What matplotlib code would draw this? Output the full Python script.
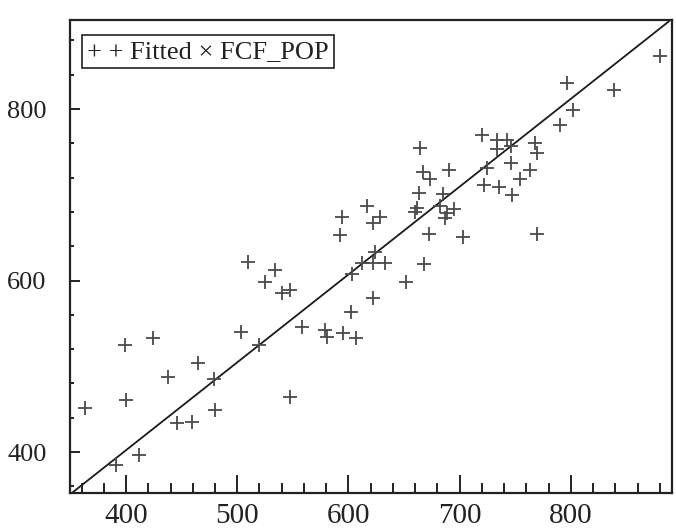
import matplotlib
matplotlib.use("Agg")
import matplotlib.pyplot as plt
from matplotlib.ticker import MultipleLocator

# Scatter data: FCF_POP (x) vs fitted (y)
pop_x = [363, 391, 412, 399, 400, 424, 438, 465, 479, 480, 446, 459, 503, 520,
         547, 525, 540, 547, 510, 534, 558, 579, 581, 595, 607, 602, 622, 652,
         603, 612, 622, 633, 624, 668, 592, 594, 622, 628, 617, 660, 662, 672,
         682, 689, 695, 687, 703, 663, 685, 667, 673, 690, 664, 725, 722, 735,
         747, 754, 763, 746, 770, 720, 734, 734, 743, 746, 768, 770, 790, 802,
         797, 839, 880]
fit_y = [451, 385, 397, 525, 461, 533, 487, 504, 485, 449, 434, 435, 540, 525,
         464, 598, 585, 589, 622, 612, 546, 542, 534, 539, 533, 563, 580, 598,
         608, 620, 620, 620, 633, 619, 653, 674, 667, 674, 687, 680, 685, 654,
         687, 679, 683, 673, 651, 702, 701, 727, 718, 729, 755, 731, 711, 709,
         700, 718, 729, 737, 654, 770, 764, 753, 764, 757, 760, 749, 781, 799,
         830, 822, 862]

# Fitted line end points
line_x = [352, 888]
line_y = [353, 902]

x_major = [400, 500, 600, 700, 800]
y_major = [400, 600, 800]
legend_text = "+ + Fitted \u00d7 FCF_POP"

fig = plt.figure(figsize=(6.76, 5.28), dpi=100)
ax = fig.add_axes([0.1036, 0.0663, 0.8905, 0.8958])

ax.plot(line_x, line_y, color="#1a1a1a", lw=1.3, zorder=2)
ax.scatter(pop_x, fit_y, marker="+", s=100, linewidths=1.3, color="#4a4a4a", zorder=3)

ax.set_xlim(349.6, 891)
ax.set_ylim(352.2, 903.8)

ax.set_xticks(x_major)
ax.set_yticks(y_major)
ax.xaxis.set_minor_locator(MultipleLocator(20))
ax.yaxis.set_minor_locator(MultipleLocator(40))

serif = ["Liberation Serif", "DejaVu Serif"]
ax.set_xticklabels([str(v) for v in x_major], family=serif, fontsize=21, color="#222222")
ax.set_yticklabels([str(v) for v in y_major], family=serif, fontsize=19, color="#222222")

ax.tick_params(axis="x", which="major", direction="in", length=13, width=1.4, pad=7, color="#222222")
ax.tick_params(axis="x", which="minor", direction="in", length=7, width=1.4, color="#222222")
ax.tick_params(axis="y", which="major", direction="in", length=7, width=1.4, pad=17, color="#222222")
ax.tick_params(axis="y", which="minor", direction="in", length=3, width=1.4, color="#222222")

for side, sp in ax.spines.items():
    sp.set_linewidth(1.6)
    sp.set_color("#222222")

ax.text(0.028, 0.933, legend_text, transform=ax.transAxes, family=serif,
        fontsize=19, color="#222222", va="center", ha="left",
        bbox=dict(boxstyle="square,pad=0.2", facecolor="white",
                  edgecolor="#222222", linewidth=1.2), zorder=5)

fig.savefig("out.png", dpi=100)
